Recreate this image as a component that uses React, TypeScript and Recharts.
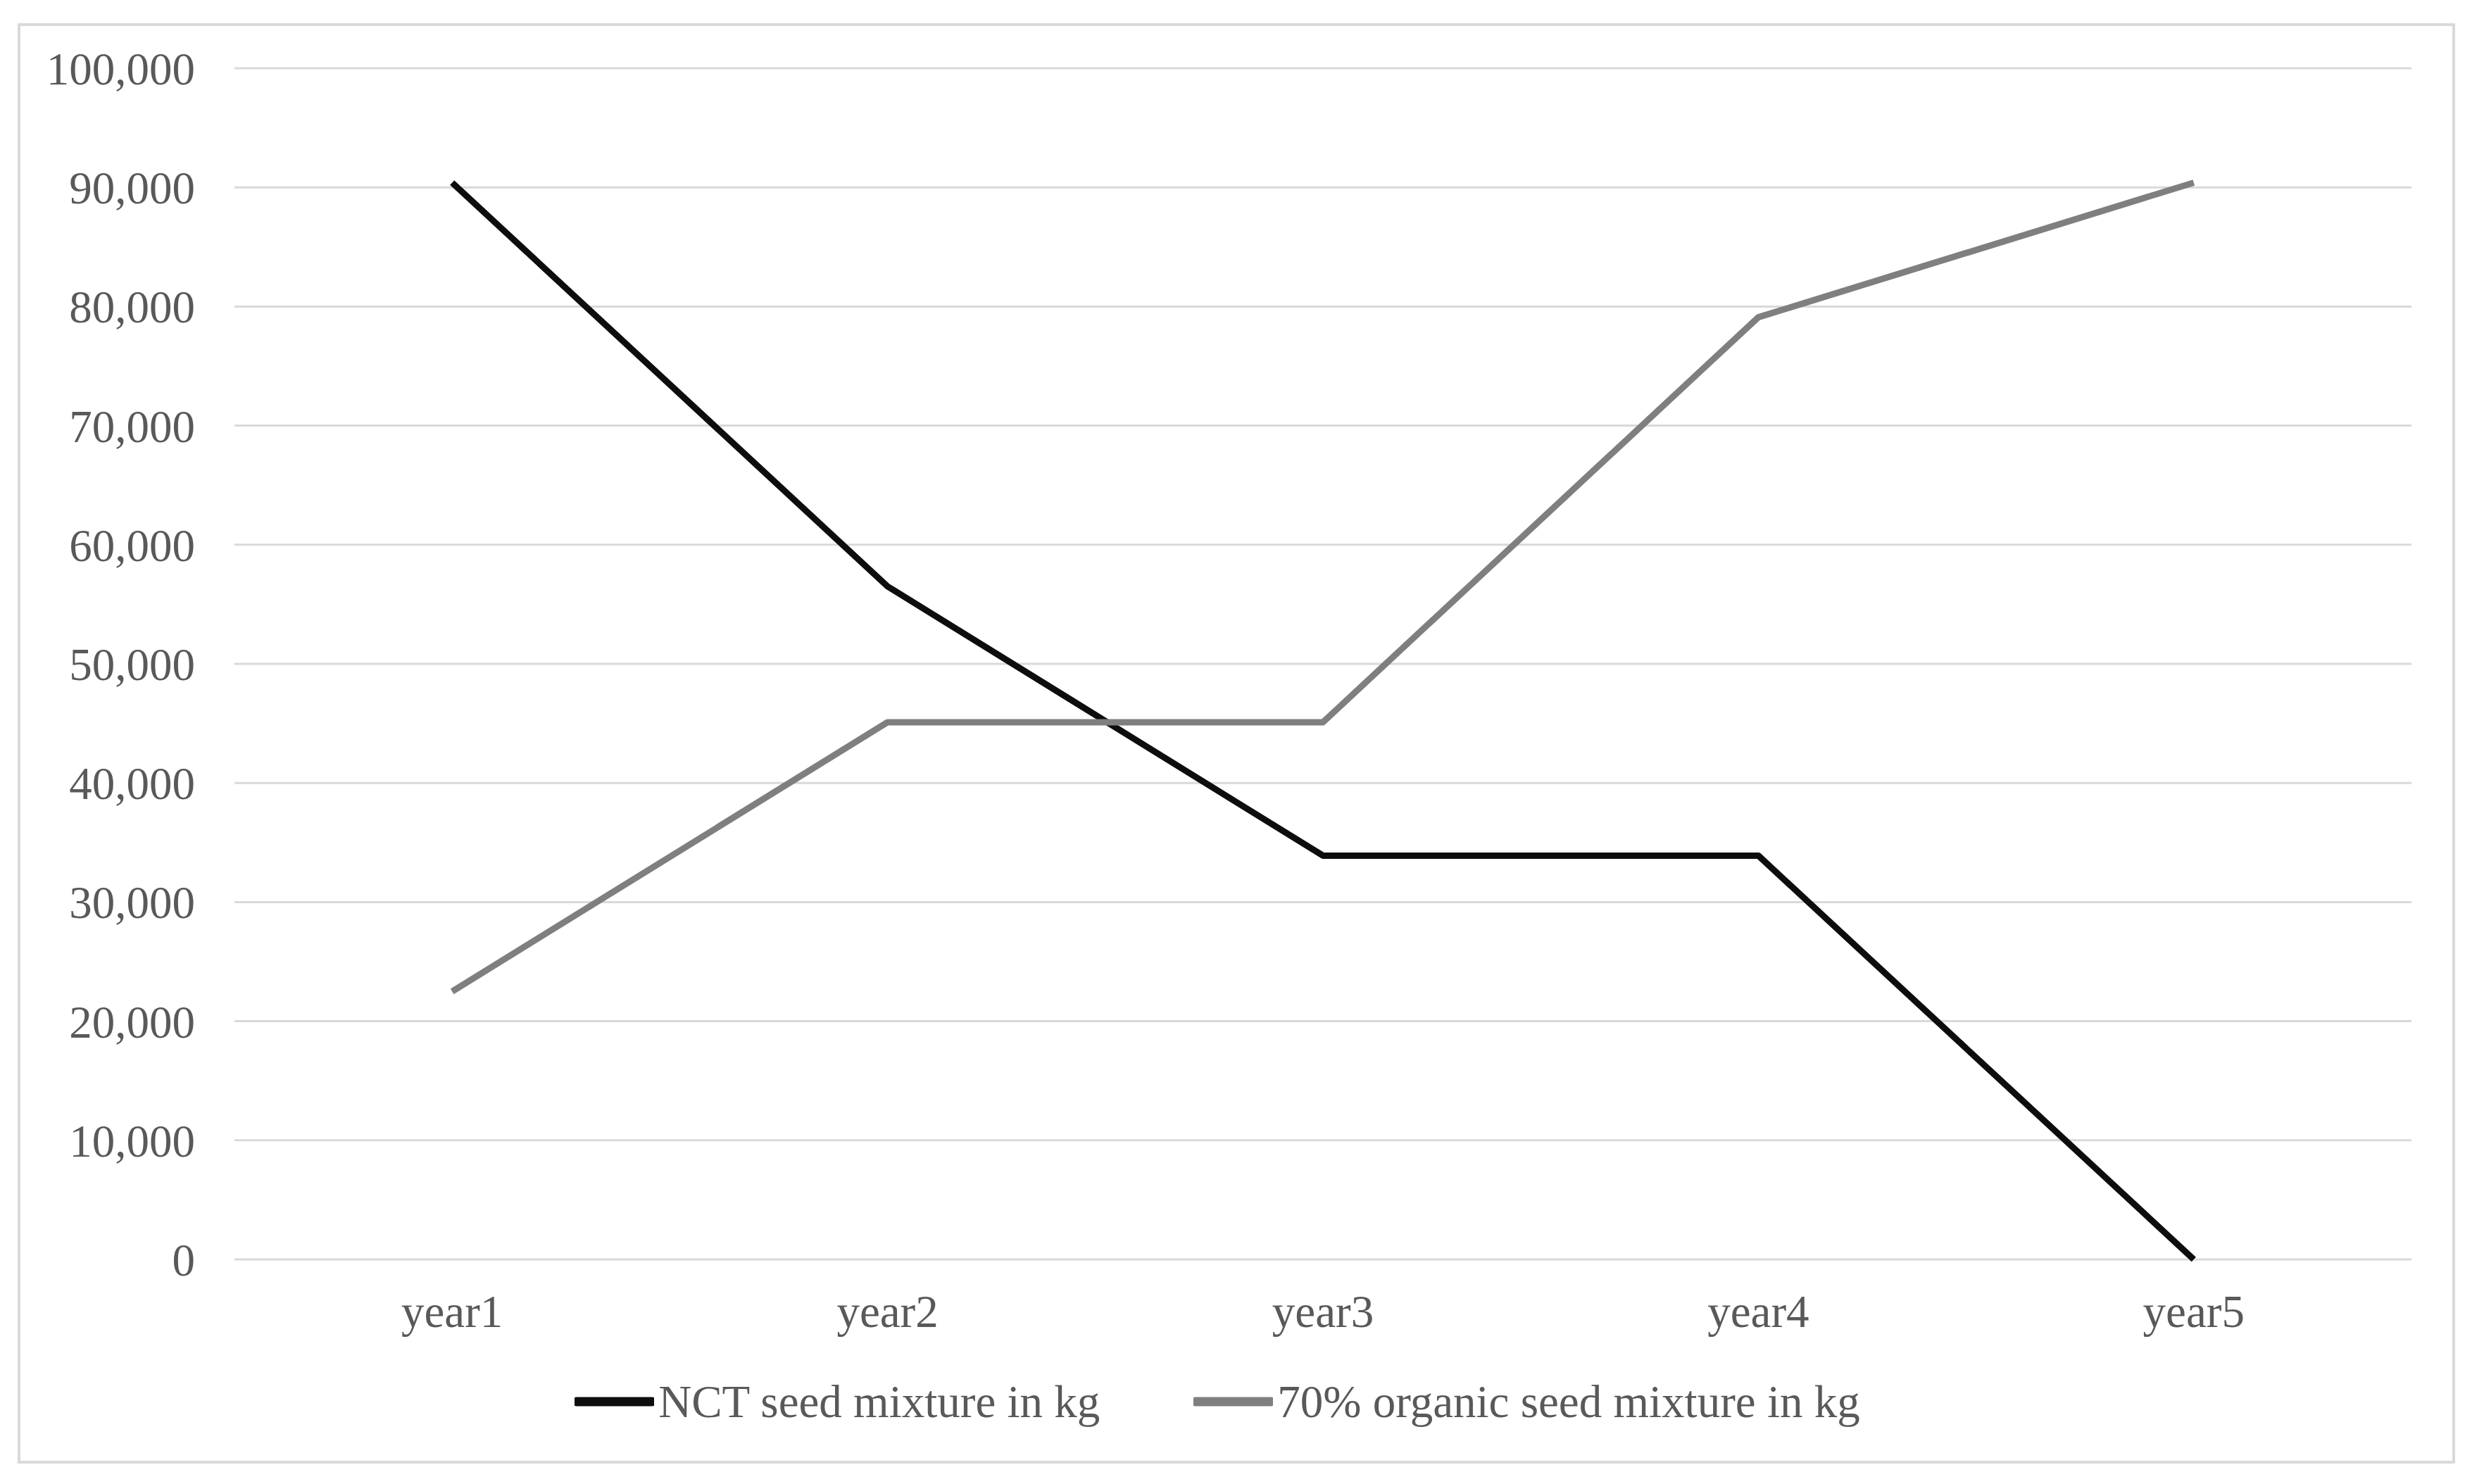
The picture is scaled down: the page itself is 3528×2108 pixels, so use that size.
import React from 'react';
import { LineChart, Line, XAxis, YAxis, CartesianGrid, Legend } from 'recharts';

const years = ['year1', 'year2', 'year3', 'year4', 'year5'];
const nctSeed = [90400, 56500, 33900, 33900, 0];
const organicSeed = [22500, 45100, 45100, 79100, 90400];
const yTicks = [0, 10000, 20000, 30000, 40000, 50000, 60000, 70000, 80000, 90000, 100000];

const seriesInfo = [
  { key: 'nct', name: 'NCT seed mixture in kg', color: '#0d0d0d' },
  { key: 'organic', name: '70% organic seed mixture in kg', color: '#7f7f7f' },
];

const data = years.map((year, i) => ({
  year,
  nct: nctSeed[i],
  organic: organicSeed[i],
}));

const FONT = '"Liberation Serif", "Times New Roman", serif';
const TEXT_COLOR = '#595959';

const formatThousands = (v: number) => v.toLocaleString('en-US');

const LegendContent = () => (
  <div
    style={{
      display: 'flex',
      justifyContent: 'center',
      alignItems: 'center',
      height: 120,
      fontFamily: FONT,
      fontSize: 65,
      color: TEXT_COLOR,
    }}
  >
    {seriesInfo.map((s, i) => (
      <div key={s.key} style={{ display: 'flex', alignItems: 'center', marginLeft: i === 0 ? 0 : 133 }}>
        <svg width={113} height={20} style={{ marginRight: 6 }}>
          <line x1={3} y1={10} x2={110} y2={10} stroke={s.color} strokeWidth={13} strokeLinecap="round" />
        </svg>
        <span>{s.name}</span>
      </div>
    ))}
  </div>
);

export default function App() {
  return (
    <div style={{ position: 'relative', width: 3520, height: 2100, background: '#fff' }}>
      <div
        style={{
          position: 'absolute',
          left: 17,
          top: 25,
          width: 3462,
          height: 2046,
          border: '4px solid #d9d9d9',
          boxSizing: 'border-box',
        }}
      />
      <LineChart
        width={3520}
        height={2100}
        data={data}
        margin={{ top: 89, right: 103, left: 25, bottom: 57 }}
        style={{ position: 'absolute', left: 0, top: 0 }}
      >
        <CartesianGrid vertical={false} stroke="#d9d9d9" strokeWidth={3} />
        <XAxis
          dataKey="year"
          scale="band"
          axisLine={false}
          tickLine={false}
          height={142}
          tickMargin={44}
          tick={{ fill: TEXT_COLOR, fontSize: 65, fontFamily: FONT }}
        />
        <YAxis
          width={300}
          domain={[0, 100000]}
          ticks={yTicks}
          interval={0}
          axisLine={false}
          tickLine={false}
          tickMargin={50}
          tickFormatter={formatThousands}
          tick={{ fill: TEXT_COLOR, fontSize: 65, fontFamily: FONT }}
        />
        <Legend verticalAlign="bottom" height={120} content={<LegendContent />} />
        {seriesInfo.map((s) => (
          <Line
            key={s.key}
            type="linear"
            dataKey={s.key}
            name={s.name}
            stroke={s.color}
            strokeWidth={9}
            strokeLinejoin="round"
            dot={false}
            activeDot={false}
            isAnimationActive={false}
          />
        ))}
      </LineChart>
    </div>
  );
}
